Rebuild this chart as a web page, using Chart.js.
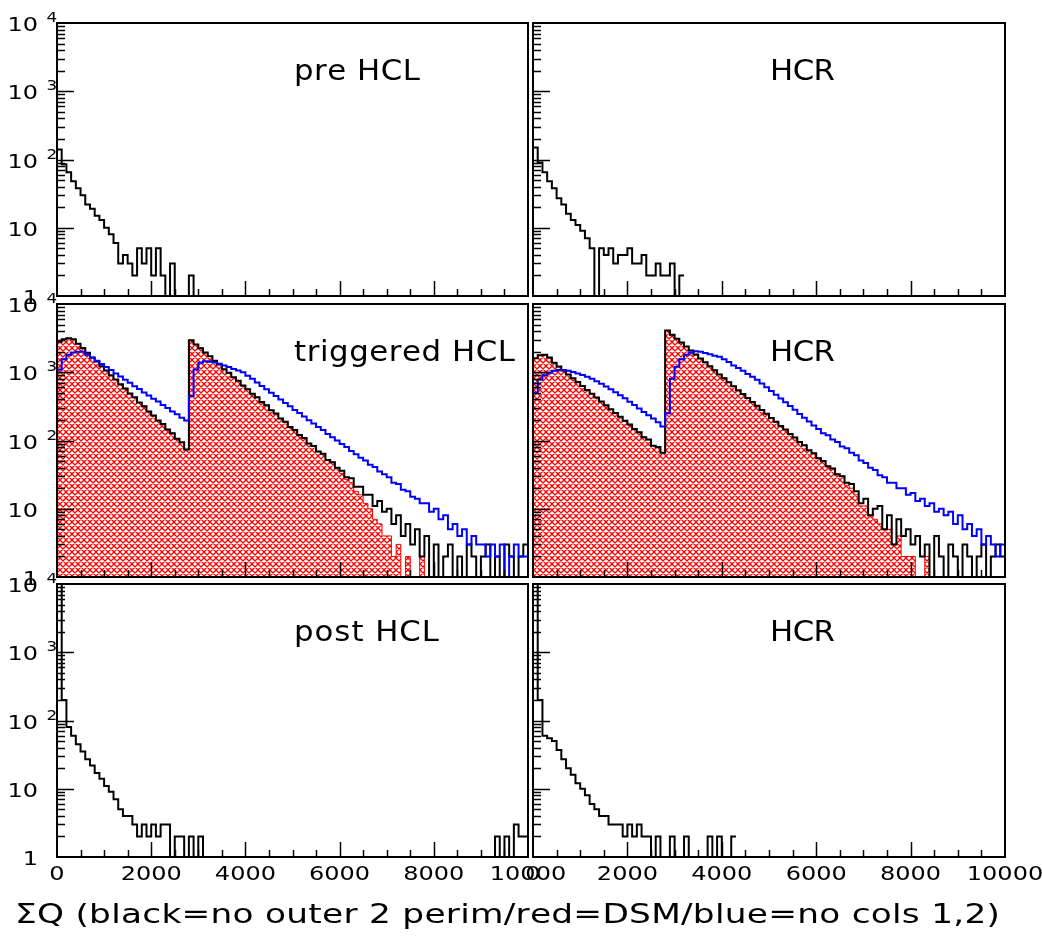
<!DOCTYPE html>
<html>
<head>
<meta charset="utf-8">
<title>SumQ spectra</title>
<script src="https://cdn.jsdelivr.net/npm/chart.js@4.4.1/dist/chart.umd.min.js"></script>
<style>
  html, body { margin: 0; padding: 0; background: #fff; }
  #page { position: relative; width: 1042px; height: 936px; overflow: hidden; background: #fff; }
  #page canvas { position: absolute; left: 0; top: 0; }
</style>
</head>
<body>
<div id="page">
  <canvas id="pad1" width="1042" height="936"></canvas>
  <canvas id="pad2" width="1042" height="936"></canvas>
  <canvas id="pad3" width="1042" height="936"></canvas>
  <canvas id="pad4" width="1042" height="936"></canvas>
  <canvas id="pad5" width="1042" height="936"></canvas>
  <canvas id="pad6" width="1042" height="936"></canvas>
</div>
<script>
// binning + axes
const BIN_WIDTH = 100;
const X_MAX = 10000;
const X_MINOR = 500;
const xMajorTicks = [0, 2000, 4000, 6000, 8000, 10000];
const xTickLabels = ["0", "2000", "4000", "6000", "8000", "10000"];
const yDecades = [1, 10, 100, 1000, 10000];
const yTickLabels = [["1", ""], ["10", ""], ["10", "2"], ["10", "3"], ["10", "4"]];

// counts per 100-wide bin of sum Q
const preHclBlack = [140, 85, 65, 48, 38, 30, 22, 19, 15, 13,
  10, 8, 6, 3, 4, 3, 2, 5, 3, 5,
  2, 5, 2, 0, 3, 0, 0, 0, 2, 0];
const preHcrBlack = [150, 90, 65, 48, 38, 27, 22, 16, 13, 11,
  9, 7, 5, 1, 5, 4, 5, 3, 4, 4,
  5, 3, 3, 4, 2, 2, 3, 2, 2, 3,
  0, 2];

const trigHclBlack = [2800, 3050, 3150, 3050, 2620, 2260, 1930, 1650, 1440, 1220,
  1060, 900, 785, 665, 580, 490, 430, 360, 318, 265,
  232, 196, 174, 145, 128, 106, 94, 74, 2950, 2560,
  2250, 1940, 1710, 1470, 1300, 1110, 985, 845, 750, 640,
  565, 485, 432, 368, 328, 278, 248, 210, 189, 158,
  143, 120, 109, 90, 83, 69, 64, 52, 48, 40,
  36, 29, 28, 21, 21, 16, 16, 11, 13, 9,
  10, 6, 8, 4, 6, 3, 5, 2, 4, 1,
  3, 0, 2, 3, 1, 2, 0, 3, 2, 1,
  2, 3, 0, 2, 1, 3, 2, 0, 2, 3];
const trigHclRed = [2800, 3050, 3150, 3050, 2620, 2260, 1930, 1650, 1440, 1220,
  1060, 900, 785, 665, 580, 490, 430, 360, 318, 265,
  232, 196, 174, 145, 128, 106, 94, 74, 2950, 2560,
  2250, 1940, 1710, 1470, 1300, 1110, 985, 845, 750, 640,
  565, 485, 432, 368, 328, 278, 248, 210, 189, 158,
  143, 120, 109, 90, 83, 69, 64, 52, 48, 40,
  33, 27, 24, 18, 16, 12, 10, 7, 6, 4,
  4, 2, 3, 1, 2, 1, 0, 2, 0, 0,
  0, 0, 0, 0, 0, 0, 0, 0, 0, 0,
  0, 0, 0, 0, 0, 0, 0, 0, 0, 0];
const trigHclBlue = [1100, 1550, 1800, 1950, 2000, 2000, 1800, 1630, 1470, 1320,
  1190, 1075, 960, 868, 775, 700, 625, 568, 505, 458,
  410, 372, 330, 300, 266, 243, 215, 196, 450, 1100,
  1380, 1450, 1430, 1390, 1330, 1260, 1190, 1120, 1060, 1000,
  890, 800, 710, 630, 565, 500, 450, 398, 355, 318,
  280, 252, 225, 198, 178, 158, 142, 125, 112, 100,
  89, 80, 70, 63, 56, 51, 44, 41, 35, 32,
  29, 24, 23, 19, 18, 15, 14, 12, 12, 9,
  10, 7, 8, 5, 6, 4, 5, 3, 4, 3,
  3, 2, 3, 2, 3, 1, 2, 3, 2, 2];

const trigHcrBlack = [1600, 1780, 1800, 1640, 1380, 1210, 1060, 930, 815, 720,
  630, 550, 485, 425, 372, 328, 286, 252, 222, 194,
  172, 148, 132, 112, 103, 84, 80, 66, 4100, 3550,
  3100, 2720, 2380, 2080, 1820, 1590, 1400, 1220, 1070, 930,
  820, 715, 625, 545, 480, 418, 366, 322, 280, 246,
  214, 188, 163, 145, 124, 111, 95, 85, 72, 65,
  55, 50, 42, 39, 32, 30, 24, 23, 18, 12,
  14, 8, 10, 11, 5, 8, 3, 7, 4, 5,
  3, 4, 2, 3, 1, 4, 2, 0, 3, 2,
  1, 3, 2, 0, 2, 3, 1, 2, 3, 2];
const trigHcrRed = [1600, 1780, 1800, 1640, 1380, 1210, 1060, 930, 815, 720,
  630, 550, 485, 425, 372, 328, 286, 252, 222, 194,
  172, 148, 132, 112, 103, 84, 80, 66, 4100, 3550,
  3100, 2720, 2380, 2080, 1820, 1590, 1400, 1220, 1070, 930,
  820, 715, 625, 545, 480, 418, 366, 322, 280, 246,
  214, 188, 163, 145, 124, 111, 95, 85, 72, 65,
  55, 50, 42, 39, 32, 30, 22, 20, 16, 11,
  11, 8, 7, 6, 5, 5, 3, 4, 2, 2,
  2, 1, 1, 2, 1, 1, 0, 1, 1, 0,
  0, 0, 0, 0, 0, 0, 0, 0, 0, 0];
const trigHcrBlue = [500, 780, 900, 980, 1050, 1080, 1080, 1050, 1010, 960,
  910, 860, 800, 740, 680, 620, 565, 510, 460, 415,
  370, 330, 295, 262, 235, 210, 185, 160, 250, 800,
  1200, 1550, 1800, 1950, 2030, 2000, 1920, 1840, 1750, 1680,
  1550, 1410, 1260, 1150, 1050, 945, 860, 776, 684, 603,
  531, 468, 412, 363, 320, 282, 245, 216, 190, 166,
  148, 128, 119, 103, 95, 82, 77, 66, 61, 51,
  47, 40, 37, 31, 29, 24, 24, 20, 20, 16,
  17, 13, 14, 11, 12, 9, 10, 8, 9, 6,
  8, 5, 6, 4, 5, 3, 4, 3, 2, 3];

const postHclBlack = [20000, 200, 80, 60, 45, 35, 27, 22, 17, 14,
  11, 9, 7, 5, 4, 4, 3, 2, 3, 2,
  3, 2, 3, 3, 0, 2, 2, 0, 2, 0,
  2, 0, 0, 0, 0, 0, 0, 0, 0, 0,
  0, 0, 0, 0, 0, 0, 0, 0, 0, 0,
  0, 0, 0, 0, 0, 0, 0, 0, 0, 0,
  0, 0, 0, 0, 0, 0, 0, 0, 0, 0,
  0, 0, 0, 0, 0, 0, 0, 0, 0, 0,
  0, 0, 0, 0, 0, 0, 0, 0, 0, 0,
  0, 0, 0, 2, 0, 2, 0, 3, 2, 2];
const postHcrBlack = [20000, 200, 60, 55, 50, 37, 27, 20, 16, 12,
  10, 8, 6, 5, 4, 4, 3, 3, 3, 2,
  3, 2, 3, 2, 2, 0, 2, 0, 0, 2,
  0, 0, 2, 0, 0, 0, 0, 2, 0, 2,
  0, 0, 2];

const W = 1042, H = 936;
const FONT = '"DejaVu Sans", sans-serif';
// empty bins: log axis can't take 0, so park them just under the floor (clipped like ROOT)
const EMPTY = 0.5;

// red cross-hatch like ROOT fill style
function makeHatch() {
  const c = document.createElement("canvas");
  c.width = 6; c.height = 6;
  const g = c.getContext("2d");
  g.fillStyle = "#fff";
  g.fillRect(0, 0, 6, 6);
  g.strokeStyle = "#ff0000";
  g.lineWidth = 1.35;
  g.beginPath();
  for (let o = -6; o <= 6; o += 6) {
    g.moveTo(o - 1, -1); g.lineTo(o + 7, 7);
    g.moveTo(o + 7, -1); g.lineTo(o - 1, 7);
  }
  g.stroke();
  return g.createPattern(c, "repeat");
}
const hatch = makeHatch();

function steps(counts) {
  const pts = counts.map((c, i) => ({ x: i * BIN_WIDTH, y: c > 0 ? c : EMPTY }));
  pts.push({ x: counts.length * BIN_WIDTH, y: pts[pts.length - 1].y });
  return pts;
}
function lineSet(counts, color) {
  return { data: steps(counts), stepped: "before", borderColor: color, borderWidth: 2,
    pointRadius: 0, fill: false, borderJoinStyle: "miter" };
}
function hatchSet(counts) {
  return { data: steps(counts), stepped: "before", borderColor: "#ff0000", borderWidth: 1,
    pointRadius: 0, fill: "start", backgroundColor: hatch };
}

// text helpers (stretched a bit, ROOT fonts are wide)
function textAt(ctx, str, x, y, size, align, sx) {
  ctx.font = size + "px " + FONT;
  const w = ctx.measureText(str).width * sx;
  const left = align === "center" ? x - w / 2 : align === "right" ? x - w : x;
  ctx.save();
  ctx.translate(left, y);
  ctx.scale(sx, 1);
  ctx.fillText(str, 0, 0);
  ctx.restore();
}
function spacedText(ctx, str, x, y, size, sx, width) {
  ctx.font = size + "px " + FONT;
  const chars = [...str];
  const ws = chars.map(ch => ctx.measureText(ch).width * sx);
  const total = ws.reduce((a, b) => a + b, 0);
  const gap = chars.length > 1 ? (width - total) / (chars.length - 1) : 0;
  let cx = x;
  chars.forEach((ch, i) => {
    ctx.save();
    ctx.translate(cx, y);
    ctx.scale(sx, 1);
    ctx.fillText(ch, 0, 0);
    ctx.restore();
    cx += ws[i] + gap;
  });
}

// frame, inside ticks and labels
const rootPad = {
  id: "rootPad",
  afterDatasetsDraw(chart, args, o) {
    const { ctx, chartArea: a } = chart;
    const xs = chart.scales.x, ys = chart.scales.y;
    ctx.save();
    ctx.fillStyle = "#000";
    ctx.strokeStyle = "#000";
    ctx.textBaseline = "alphabetic";

    ctx.lineWidth = 1.5;
    ctx.beginPath();
    for (let v = X_MINOR; v < X_MAX; v += X_MINOR) {
      const px = Math.round(xs.getPixelForValue(v)) + 0.5;
      const len = xMajorTicks.includes(v) ? 15 : 7;
      ctx.moveTo(px, a.bottom);
      ctx.lineTo(px, a.bottom - len);
    }
    yDecades.forEach((d, k) => {
      if (k > 0 && k < yDecades.length - 1) {
        const py = Math.round(ys.getPixelForValue(d)) + 0.5;
        ctx.moveTo(a.left, py); ctx.lineTo(a.left + 17, py);
      }
      if (k < yDecades.length - 1) {
        for (let m = 2; m <= 9; m++) {
          const py = Math.round(ys.getPixelForValue(m * d)) + 0.5;
          ctx.moveTo(a.left, py); ctx.lineTo(a.left + 8, py);
        }
      }
    });
    ctx.stroke();

    ctx.lineWidth = 2;
    ctx.strokeRect(a.left, a.top, a.right - a.left, a.bottom - a.top);

    if (o.yLabels) {
      yDecades.forEach((v, k) => {
        const py = ys.getPixelForValue(v);
        const [base, sup] = yTickLabels[k];
        textAt(ctx, base, a.left - 19, py + 8, 20, "right", 1.2);
        if (sup) textAt(ctx, sup, a.left - 10.5, py - 1, 14, "left", 1.2);
      });
    }
    if (o.xLabels) {
      xMajorTicks.forEach((v, i) => {
        textAt(ctx, xTickLabels[i], xs.getPixelForValue(v), a.bottom + 23, 20, "center", 1.2);
      });
    }
    spacedText(ctx, o.label, a.left + 237, a.top + 57, 28, 1.1, o.labelWidth);
    if (o.title) spacedText(ctx, o.title, 15, 923, 26, 1.32, 985);
    ctx.restore();
  }
};

const pads = [
  { id: "pad1", box: [57, 23, 528, 296], opts: { yLabels: true, xLabels: false, label: "pre HCL", labelWidth: 126 },
    sets: [lineSet(preHclBlack, "#000")] },
  { id: "pad2", box: [533, 23, 1005, 296], opts: { yLabels: false, xLabels: false, label: "HCR", labelWidth: 65 },
    sets: [lineSet(preHcrBlack, "#000")] },
  { id: "pad3", box: [57, 304, 528, 577], opts: { yLabels: true, xLabels: false, label: "triggered HCL", labelWidth: 221 },
    sets: [lineSet(trigHclBlue, "#0000ff"), lineSet(trigHclBlack, "#000"), hatchSet(trigHclRed)] },
  { id: "pad4", box: [533, 304, 1005, 577], opts: { yLabels: false, xLabels: false, label: "HCR", labelWidth: 65 },
    sets: [lineSet(trigHcrBlue, "#0000ff"), lineSet(trigHcrBlack, "#000"), hatchSet(trigHcrRed)] },
  { id: "pad5", box: [57, 584, 528, 857], opts: { yLabels: true, xLabels: true, label: "post HCL", labelWidth: 145,
      title: "ΣQ (black=no outer 2 perim/red=DSM/blue=no cols 1,2)" },
    sets: [lineSet(postHclBlack, "#000")] },
  { id: "pad6", box: [533, 584, 1005, 857], opts: { yLabels: false, xLabels: true, label: "HCR", labelWidth: 65 },
    sets: [lineSet(postHcrBlack, "#000")] }
];

pads.forEach(p => {
  new Chart(document.getElementById(p.id), {
    type: "line",
    data: { datasets: p.sets },
    options: {
      responsive: false,
      animation: false,
      devicePixelRatio: 1,
      events: [],
      layout: { padding: { left: p.box[0], top: p.box[1], right: W - p.box[2], bottom: H - p.box[3] } },
      elements: { line: { tension: 0 } },
      scales: {
        x: { type: "linear", min: 0, max: X_MAX, display: false },
        y: { type: "logarithmic", min: 1, max: 10000, display: false }
      },
      plugins: { legend: { display: false }, tooltip: { enabled: false }, rootPad: p.opts }
    },
    plugins: [rootPad]
  });
});
</script>
</body>
</html>
